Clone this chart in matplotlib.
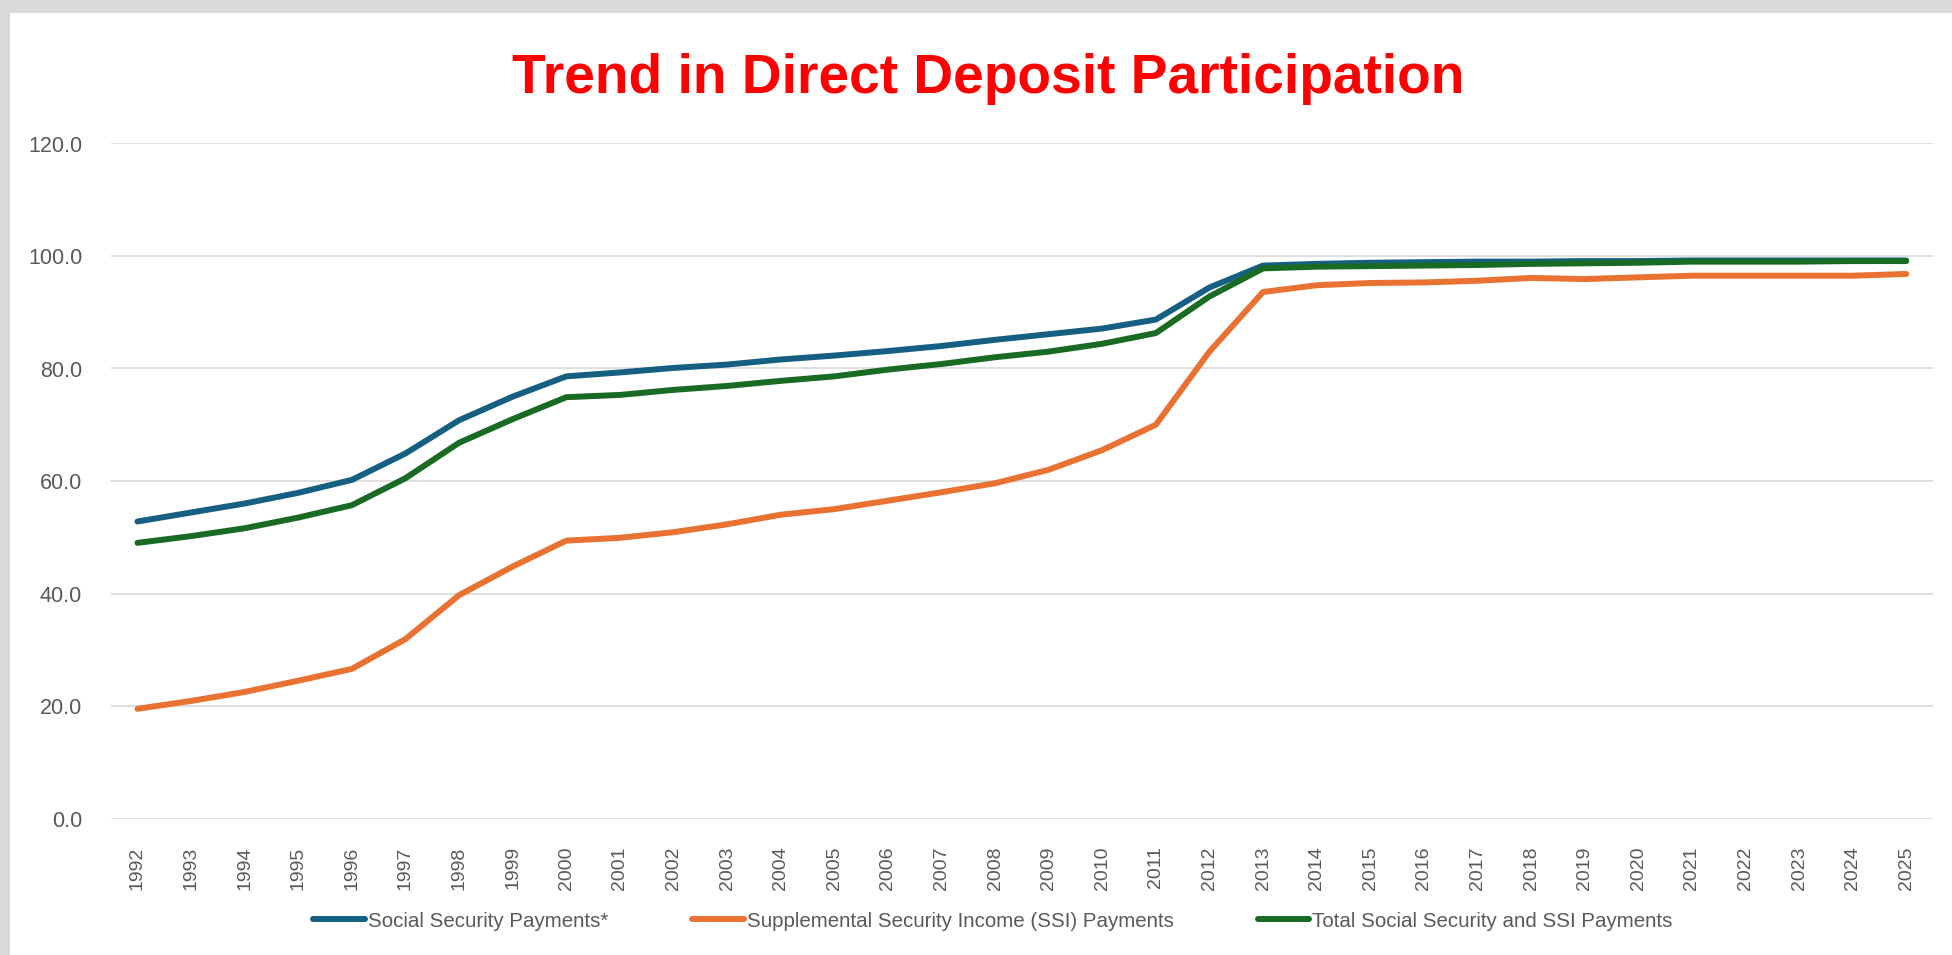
import matplotlib
matplotlib.use("Agg")
import matplotlib.pyplot as plt
from matplotlib.patches import Rectangle
import numpy as np

years = [str(y) for y in range(1992, 2026)]

social_security = [
    52.8, 54.4, 56.0, 57.9, 60.2, 64.9, 70.8, 75.0, 78.6, 79.3,
    80.1, 80.7, 81.6, 82.3, 83.1, 84.0, 85.1, 86.1, 87.1, 88.7,
    94.4, 98.3, 98.6, 98.8, 98.9, 99.0, 99.0, 99.1, 99.1, 99.2,
    99.2, 99.2, 99.2, 99.2,
]
ssi = [
    19.5, 20.9, 22.5, 24.5, 26.6, 31.9, 39.7, 44.8, 49.4, 49.9,
    50.9, 52.3, 54.0, 55.0, 56.5, 58.0, 59.6, 62.0, 65.5, 70.0,
    83.0, 93.6, 94.8, 95.2, 95.3, 95.6, 96.1, 95.9, 96.2, 96.5,
    96.5, 96.5, 96.5, 96.8,
]
total = [
    49.0, 50.2, 51.6, 53.5, 55.7, 60.5, 66.8, 71.0, 74.9, 75.3,
    76.2, 76.9, 77.8, 78.6, 79.8, 80.8, 82.0, 83.0, 84.4, 86.3,
    92.8, 97.8, 98.1, 98.2, 98.3, 98.4, 98.6, 98.7, 98.8, 99.0,
    99.0, 99.0, 99.1, 99.1,
]

series = [
    ("Social Security Payments*", social_security, "#156082"),
    ("Supplemental Security Income (SSI) Payments", ssi, "#E97132"),
    ("Total Social Security and SSI Payments", total, "#196B24"),
]

sans = "Liberation Sans"
W, H = 1952, 955

fig = plt.figure(figsize=(W / 100, H / 100), dpi=100, facecolor="white")

# screenshot frame around the chart area
frame = "#d9d9d9"
fig.patches.append(Rectangle((0, 1 - 13 / H), 1, 13 / H, transform=fig.transFigure,
                             facecolor=frame, edgecolor="none", zorder=0))
fig.patches.append(Rectangle((0, 0), 10 / W, 1, transform=fig.transFigure,
                             facecolor=frame, edgecolor="none", zorder=0))

ax = fig.add_axes([110.7 / W, 1 - 818.5 / H, 1822.3 / W, 675 / H])
x = np.arange(len(years))
for label, values, color in series:
    ax.plot(x, values, color=color, lw=4.3, solid_capstyle="round",
            solid_joinstyle="round", label=label)

ax.set_xlim(-0.5, len(years) - 0.5)
ax.set_ylim(0, 120)
ax.set_yticks(np.arange(0, 121, 20))
ax.set_yticklabels([f"{v:.1f}" for v in np.arange(0, 121, 20)],
                   family=sans, fontsize=15.5, color="#595959")
ax.set_xticks(x)
ax.set_xticklabels(years, rotation=90, family=sans, fontsize=14,
                   color="#595959")
ax.tick_params(axis="y", length=0, pad=20.5)
ax.tick_params(axis="x", length=0, pad=20)
ax.grid(axis="y", color="#d9d9d9", lw=1.2)
ax.set_axisbelow(True)
for spine in ax.spines.values():
    spine.set_visible(False)

fig.text(988 / W, 1 - 92.7 / H, "Trend in Direct Deposit Participation",
         ha="center", va="baseline", color="red", fontsize=39.7,
         fontweight="bold", family=sans)

fig.legend(loc="center", bbox_to_anchor=(993 / W, 1 - 921 / H), ncol=3,
           frameon=False, prop={"family": sans, "size": 14.8},
           labelcolor="#595959", handlelength=2.5, handletextpad=0.15,
           columnspacing=4.1)

fig.savefig("out.png", dpi=100, facecolor=fig.get_facecolor())
